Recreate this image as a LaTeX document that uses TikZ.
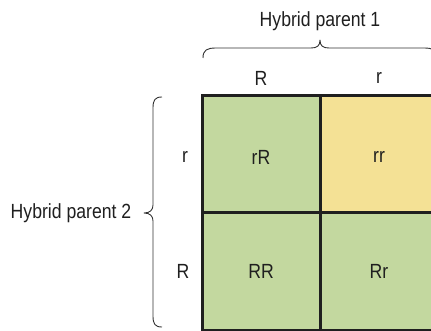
\documentclass[tikz,border=0pt]{standalone}
\usepackage{fontspec}
\setmainfont[FakeStretch=0.86]{Liberation Sans}
\begin{document}
\begin{tikzpicture}[x=1pt,y=-1pt,
  ink/.style={draw=black!88},
  cellgreen/.style={fill=gcell},
  cellyellow/.style={fill=ycell},
  lbl/.style={font=\fontsize{20.5}{22}\selectfont, text=black!88, inner sep=0pt},
  bracepath/.style={draw=black!80, line width=0.9pt, line join=round}]
\definecolor{gcell}{HTML}{C3D89F}
\definecolor{ycell}{HTML}{F4E195}
\useasboundingbox (0,0) rectangle (431,331);
\clip (0,0) rectangle (431,331);

% cells of the square
\fill[cellgreen] (202,96) rectangle (320,213);
\fill[cellyellow] (320,96) rectangle (438,213);
\fill[cellgreen] (202,213) rectangle (320,330);
\fill[cellgreen] (320,213) rectangle (438,330);
\draw[ink, line width=3pt] (202,96) rectangle (438,330);
\draw[ink, line width=3pt] (320,96) -- (320,330);
\draw[ink, line width=3pt] (202,213) -- (438,213);

% cell labels
\node[lbl] (rR) at (261,157) {rR};
\node[lbl] (rr) at (379,157) {rr};
\node[lbl] (RR) at (261,271) {RR};
\node[lbl] (Rr) at (379,271) {Rr};

% gametes of parent 1
\node[lbl] (p1R) at (261,78) {R};
\node[lbl] (p1r) at (379,78) {r};
% gametes of parent 2
\node[lbl] (p2r) at (185,157) {r};
\node[lbl] (p2R) at (183,271) {R};

% parent labels
\node[lbl] (par1) at (320,21) {Hybrid parent 1};
\node[lbl] (par2) at (71,213) {Hybrid parent 2};

% braces
\draw[bracepath] (203,58) .. controls (203,50) and (207,48) .. (216,48)
  -- (311,48) .. controls (317,48) and (320,46) .. (320,40)
  .. controls (320,46) and (323,48) .. (329,48)
  -- (424,48) .. controls (433,48) and (437,50) .. (437,58);
\draw[bracepath] (162,97) .. controls (155,97) and (153,100) .. (153,108)
  -- (153,205) .. controls (153,210) and (150,213) .. (144,213)
  .. controls (150,213) and (153,216) .. (153,221)
  -- (153,316) .. controls (153,324) and (155,327) .. (162,327);
\end{tikzpicture}
\end{document}
